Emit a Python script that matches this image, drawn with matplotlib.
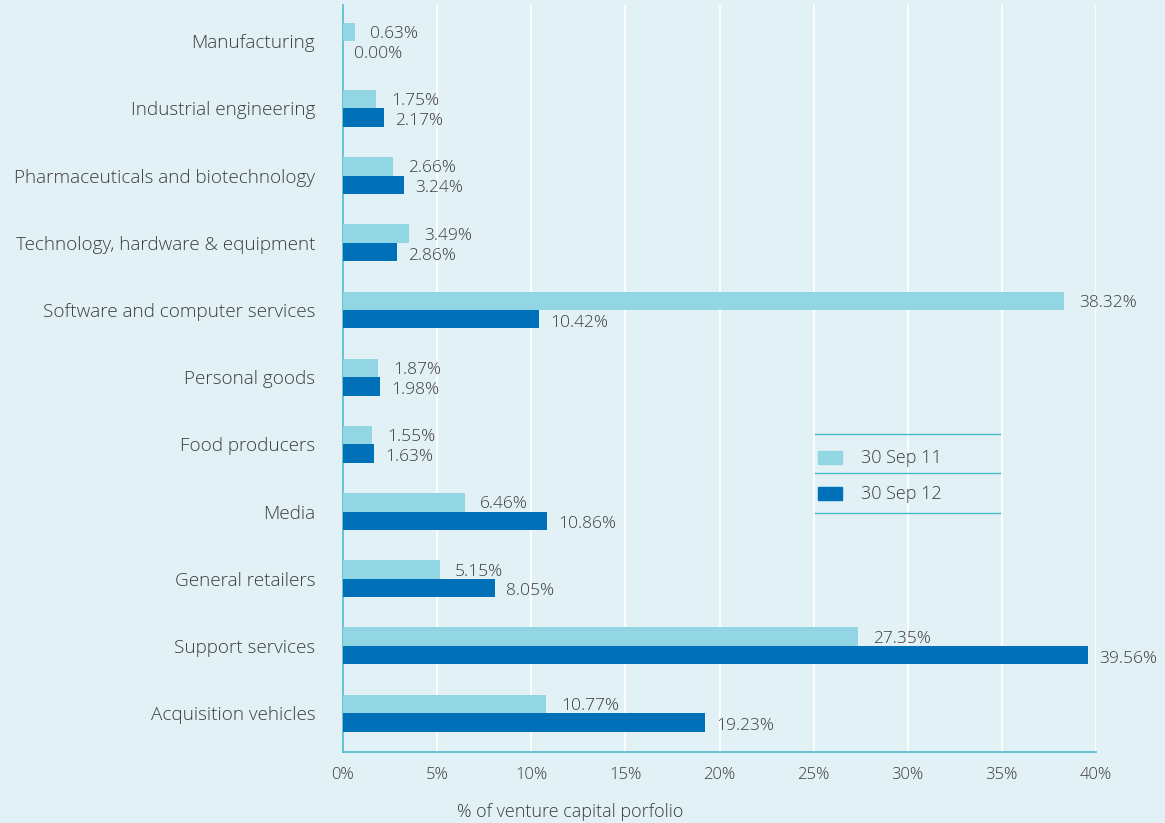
import matplotlib
matplotlib.use("Agg")
import matplotlib.pyplot as plt
from matplotlib.patches import Rectangle
import numpy as np

plt.rcParams['font.family'] = ['Open Sans', 'DejaVu Sans']
plt.rcParams['font.weight'] = 'light'

categories = ["Manufacturing", "Industrial engineering", "Pharmaceuticals and biotechnology",
              "Technology, hardware & equipment", "Software and computer services",
              "Personal goods", "Food producers", "Media", "General retailers",
              "Support services", "Acquisition vehicles"]
sep11 = [0.63, 1.75, 2.66, 3.49, 38.32, 1.87, 1.55, 6.46, 5.15, 27.35, 10.77]
sep12 = [0.00, 2.17, 3.24, 2.86, 10.42, 1.98, 1.63, 10.86, 8.05, 39.56, 19.23]
series_names = ["30 Sep 11", "30 Sep 12"]
xticks = [0, 5, 10, 15, 20, 25, 30, 35, 40]

bg = "#E1F1F6"
light = "#93D6E3"
dark = "#0070B8"
teal = "#4BBCCB"
txt = "#3c3c3c"

fig = plt.figure(figsize=(11.65, 8.23), dpi=100, facecolor=bg)
ax = fig.add_axes([343/1165, 1-752/823, 753/1165, 747/823], facecolor=bg)

n = len(categories)
y = np.arange(n)[::-1]
h = 0.275
ax.barh(y + h/2, sep11, height=h, color=light, zorder=3)
ax.barh(y - h/2, sep12, height=h, color=dark, zorder=3)

for yi, v in zip(y, sep11):
    ax.annotate(f"{v:.2f}%", (v, yi + h/2), xytext=(11, -1.5), textcoords="offset points",
                va="center", ha="left", fontsize=12.5, color=txt, zorder=4)
for yi, v in zip(y, sep12):
    ax.annotate(f"{v:.2f}%", (v, yi - h/2), xytext=(8, -2.5), textcoords="offset points",
                va="center", ha="left", fontsize=12.5, color=txt, zorder=4)

ax.set_xlim(0, 40)
ax.set_ylim(-0.58, 10.54)
ax.set_xticks(xticks)
ax.set_xticklabels([f"{t}%" for t in xticks], fontsize=12, color=txt)
ax.set_yticks(y)
ax.set_yticklabels(categories, fontsize=13.6, color=txt)
ax.tick_params(axis='both', length=0)
ax.tick_params(axis='x', pad=11)
ax.tick_params(axis='y', pad=20)
ax.grid(axis='x', color='white', linewidth=1.3, zorder=0)
ax.set_axisbelow(True)
for s in ['top', 'right']:
    ax.spines[s].set_visible(False)
for s in ['left', 'bottom']:
    ax.spines[s].set_color(teal)
    ax.spines[s].set_linewidth(1.2)

# legend
for ly in [0.4257, 0.3735, 0.320]:
    ax.plot([0.627, 0.8725], [ly, ly], transform=ax.transAxes, color=teal, lw=1, zorder=5)
for cy, col, name in [(0.394, light, series_names[0]), (0.346, dark, series_names[1])]:
    ax.add_patch(Rectangle((0.631, cy - 0.0087), 0.032, 0.0174, transform=ax.transAxes,
                           color=col, zorder=5))
    ax.text(0.688, cy, name, transform=ax.transAxes, va="center", ha="left",
            fontsize=13, color=txt, zorder=5)

fig.text(570/1165, 1-812/823, "% of venture capital porfolio", ha="center", va="center",
         fontsize=13, color=txt)

fig.savefig("out.png", dpi=100, facecolor=bg)
